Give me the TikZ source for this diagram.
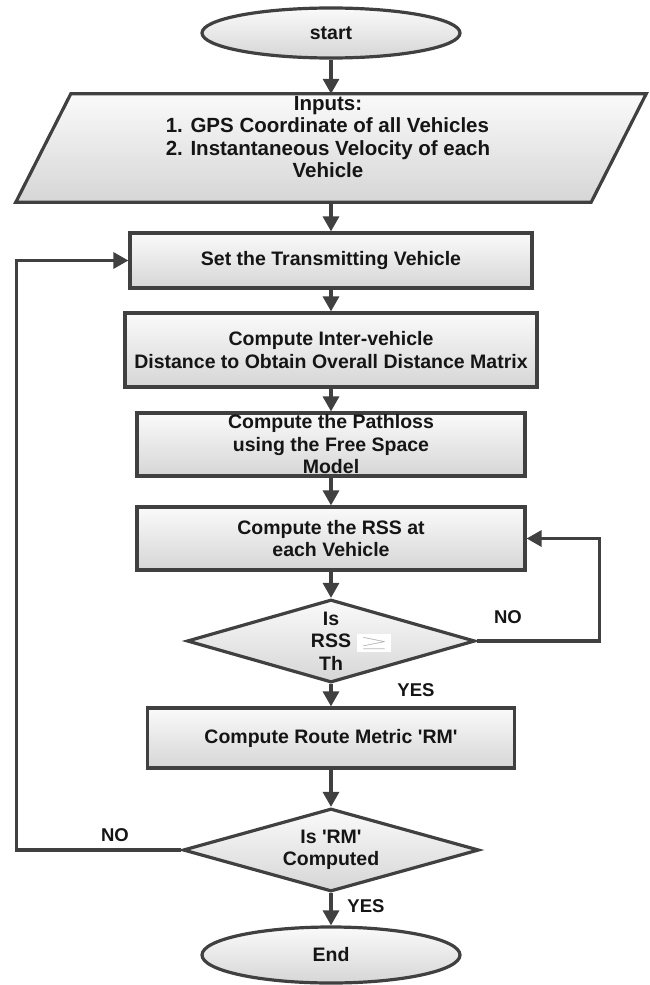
\documentclass[tikz,border=0pt]{standalone}
\usepackage{fontspec}
\setmainfont{Liberation Sans}
\usepackage{graphicx}
\usetikzlibrary{shapes.geometric,arrows.meta}
\definecolor{lc}{HTML}{404040}
\definecolor{tc}{HTML}{151515}
\definecolor{fillbot}{HTML}{D6D6D6}
\definecolor{filltop}{HTML}{FAFAFA}
\newlength\inplinetwowd
\begin{document}
\settowidth{\inplinetwowd}{\bfseries\fontsize{20.5}{22.5}\selectfont 2. Instantaneous Velocity of each}%
\begin{tikzpicture}[x=1pt,y=-1pt,
  base/.style={draw=lc, line width=3.2pt, top color=filltop, bottom color=fillbot,
    inner sep=0pt, align=center, text=tc, font=\bfseries\fontsize{19.5}{22.5}\selectfont},
  proc/.style={base, rectangle},
  term/.style={base, ellipse},
  dec/.style={base, diamond, aspect=3.5},
  txt/.style={text=tc, inner sep=0pt, align=center, font=\bfseries\fontsize{20.5}{22.5}\selectfont},
  lbl/.style={text=tc, inner sep=0pt, font=\bfseries\fontsize{18.5}{22}\selectfont},
  arr/.style={draw=lc, line width=3.2pt, -{Triangle[width=16pt,length=15pt]}},
]
\path[fill=white, use as bounding box] (0,0) rectangle (650,985);

\node[term, minimum width=258, minimum height=50] (start) at (331,33) {start};

\node[minimum width=575, minimum height=108, inner sep=0pt] (inp) at (331,148) {};
\draw[base] ([xshift=-27.5pt]inp.south west) -- ([xshift=-27.5pt]inp.south east)
  -- ([xshift=27.5pt]inp.north east) -- ([xshift=27.5pt]inp.north west) -- cycle;
\node[txt] (inptext) at (328,137) {Inputs:\\\makebox[\inplinetwowd][l]{1. GPS Coordinate of all Vehicles}\\2. Instantaneous Velocity of each\\Vehicle};

\node[proc, minimum width=402, minimum height=55] (b1) at (331,260.5) {Set the Transmitting Vehicle};
\node[proc, minimum width=412, minimum height=74] (b2) at (331,350) {Compute Inter-vehicle\\Distance to Obtain Overall Distance Matrix};
\node[proc, minimum width=388, minimum height=63] (b3) at (331,444.5) {Compute the Pathloss\\using the Free Space\\Model};
\node[proc, minimum width=388, minimum height=63] (b4) at (331,538.5) {Compute the RSS at\\each Vehicle};
\node[dec, minimum width=288, minimum height=83] (d1) at (331,641)
  {Is\\RSS\rlap{\hspace{6pt}\colorbox{white}{\textcolor{gray!70}{\raisebox{0.5pt}{\resizebox*{28pt}{12pt}{$\geq$}}}}}\\Th};
\node[proc, minimum width=367, minimum height=60] (b5) at (331,738) {Compute Route Metric \textquotesingle RM\textquotesingle};
\node[dec, minimum width=296, minimum height=83] (d2) at (331,850) {Is \textquotesingle RM\textquotesingle\\Computed};
\node[term, minimum width=258, minimum height=56] (end) at (331,955) {End};

\draw[arr] (start) -- (inp);
\draw[arr] (inp) -- (b1);
\draw[arr] (b1) -- (b2);
\draw[arr] (b2) -- (b3);
\draw[arr] (b3) -- (b4);
\draw[arr] (b4) -- (d1);
\draw[arr] (d1) -- (b5);
\draw[arr] (b5) -- (d2);
\draw[arr] (d2) -- (end);
\draw[arr] (d1.east) -- ++(123,0) |- (b4.east);
\draw[arr] (d2.west) -- ++(-165,0) |- (b1.west);

\node[lbl] (no1) at (508,617) {NO};
\node[lbl] (yes1) at (416,690) {YES};
\node[lbl] (no2) at (115,835) {NO};
\node[lbl] (yes2) at (366,906) {YES};
\end{tikzpicture}
\end{document}
